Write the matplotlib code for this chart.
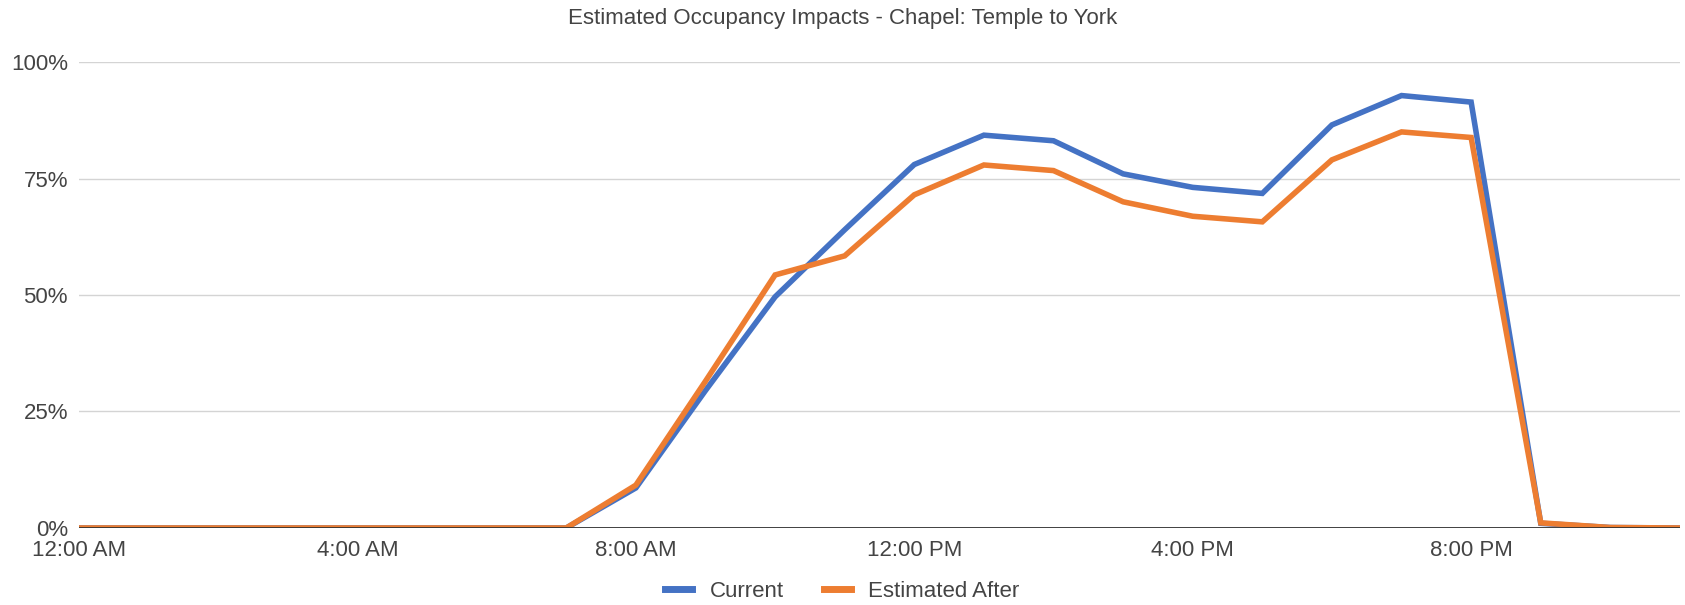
import numpy as np
import matplotlib
matplotlib.use("Agg")
import matplotlib.pyplot as plt
from matplotlib.ticker import FuncFormatter

plt.rcParams['font.family'] = ['Liberation Sans', 'DejaVu Sans']

hours = list(range(24))
current = [0, 0, 0, 0, 0, 0, 0, 0, 8.6, 29.5, 49.6, 64.0, 78.0, 84.3, 83.1, 76.0,
           73.1, 71.8, 86.5, 92.8, 91.4, 1.0, 0.1, 0]
estimated_after = [0, 0, 0, 0, 0, 0, 0, 0, 9.2, 31.5, 54.3, 58.4, 71.5, 77.9, 76.7, 70.0,
                   66.9, 65.7, 79.0, 85.0, 83.8, 1.1, 0.1, 0]
tick_hours = [0, 4, 8, 12, 16, 20]
tick_labels = ["12:00 AM", "4:00 AM", "8:00 AM", "12:00 PM", "4:00 PM", "8:00 PM"]

fig = plt.figure(figsize=(16.85, 6.05), dpi=100)
ax = fig.add_axes([0.0469, 0.1273, 0.9501, 0.7702])

ax.plot(hours, current, color="#4472C4", lw=4, label="Current", solid_joinstyle="miter", zorder=3)
ax.plot(hours, estimated_after, color="#ED7D31", lw=4, label="Estimated After", solid_joinstyle="miter", zorder=4)

ax.set_xlim(0, 23)
ax.set_ylim(0, 100)
ax.set_yticks([0, 25, 50, 75, 100])
ax.yaxis.set_major_formatter(FuncFormatter(lambda v, p: f"{int(v)}%"))
ax.set_xticks(tick_hours)
ax.set_xticklabels(tick_labels)
ax.grid(axis="y", color="#d4d4d4", lw=1)
ax.axhline(0, color="#333333", lw=1.3, zorder=5)
for s in ax.spines.values():
    s.set_visible(False)
ax.tick_params(axis="both", length=0, labelsize=16, labelcolor="#444444")
ax.tick_params(axis="y", pad=8)
ax.tick_params(axis="x", pad=8.5)

fig.text(0.5, 0.97, "Estimated Occupancy Impacts - Chapel: Temple to York",
         ha="center", va="center", fontsize=16, color="#444444")

leg = fig.legend(loc="center", bbox_to_anchor=(0.5, 0.022), ncol=2, frameon=False,
                 fontsize=16, handlelength=1.2, handletextpad=0.8, columnspacing=1.8)
for t in leg.get_texts():
    t.set_color("#444444")
for h in leg.get_lines():
    h.set_linewidth(5)

fig.savefig("out.png", dpi=100)
